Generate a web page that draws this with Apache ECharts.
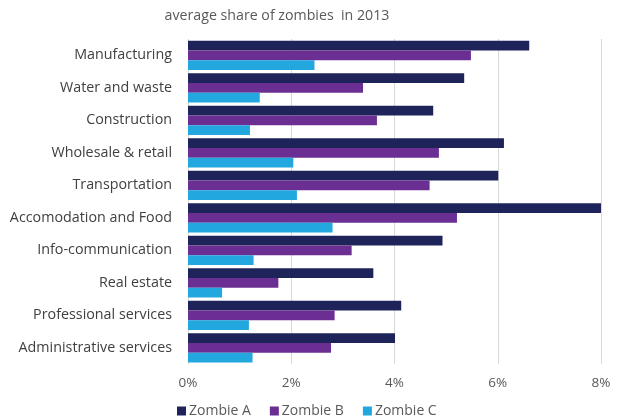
<!DOCTYPE html>
<html><head><meta charset="utf-8">
<script src="https://cdn.jsdelivr.net/npm/echarts@6/dist/echarts.min.js"></script>
<style>html,body{margin:0;padding:0;background:#fff}#c{width:619px;height:419px}</style>
</head><body><div id="c"></div>
<script>
var categories = ["Manufacturing","Water and waste","Construction","Wholesale & retail","Transportation","Accomodation and Food","Info-communication","Real estate","Professional services","Administrative services"];
var zombieA = [6.61,5.35,4.75,6.12,6.01,8.00,4.93,3.59,4.13,4.01];
var zombieB = [5.48,3.39,3.66,4.86,4.68,5.21,3.17,1.75,2.84,2.77];
var zombieC = [2.45,1.39,1.20,2.04,2.11,2.80,1.27,0.66,1.18,1.25];
var xTicks = [0,2,4,6,8];
var seriesNames = ["Zombie A","Zombie B","Zombie C"];
var colors = ["#1e2459","#6b2f93","#22a7de"];

var chart = echarts.init(document.getElementById('c'));
var data = [zombieA, zombieB, zombieC];
chart.setOption({
  animation:false,
  title:{text:"average share of zombies  in 2013",left:272,textAlign:'center',top:4,
    textStyle:{fontFamily:'Open Sans',fontSize:14.2,fontWeight:'normal',color:'#595959'}},
  legend:{left:172,top:399,itemWidth:9,itemHeight:9,itemGap:19,icon:'rect',
    textStyle:{fontFamily:'Open Sans',fontSize:14,color:'#595959',padding:[0,0,0,-2]},
    data:seriesNames},
  grid:{left:188,right:18,top:39,bottom:55,containLabel:false},
  xAxis:{type:'value',min:xTicks[0],max:xTicks[xTicks.length-1],interval:2,
    axisLine:{show:false},axisTick:{show:false},
    splitLine:{lineStyle:{color:'#d9d9d9'}},
    axisLabel:{formatter:'{value}%',fontFamily:'Open Sans',fontSize:13.5,color:'#595959',margin:12}},
  yAxis:{type:'category',data:categories,inverse:true,
    axisLine:{show:false},axisTick:{show:false},
    axisLabel:{fontFamily:'Open Sans',fontSize:14.3,color:'#404040',margin:16}},
  series:seriesNames.map(function(n,i){return {name:n,type:'bar',data:data[i],
    barGap:'0%',barCategoryGap:'10%',itemStyle:{color:colors[i]}};})
});
</script></body></html>
